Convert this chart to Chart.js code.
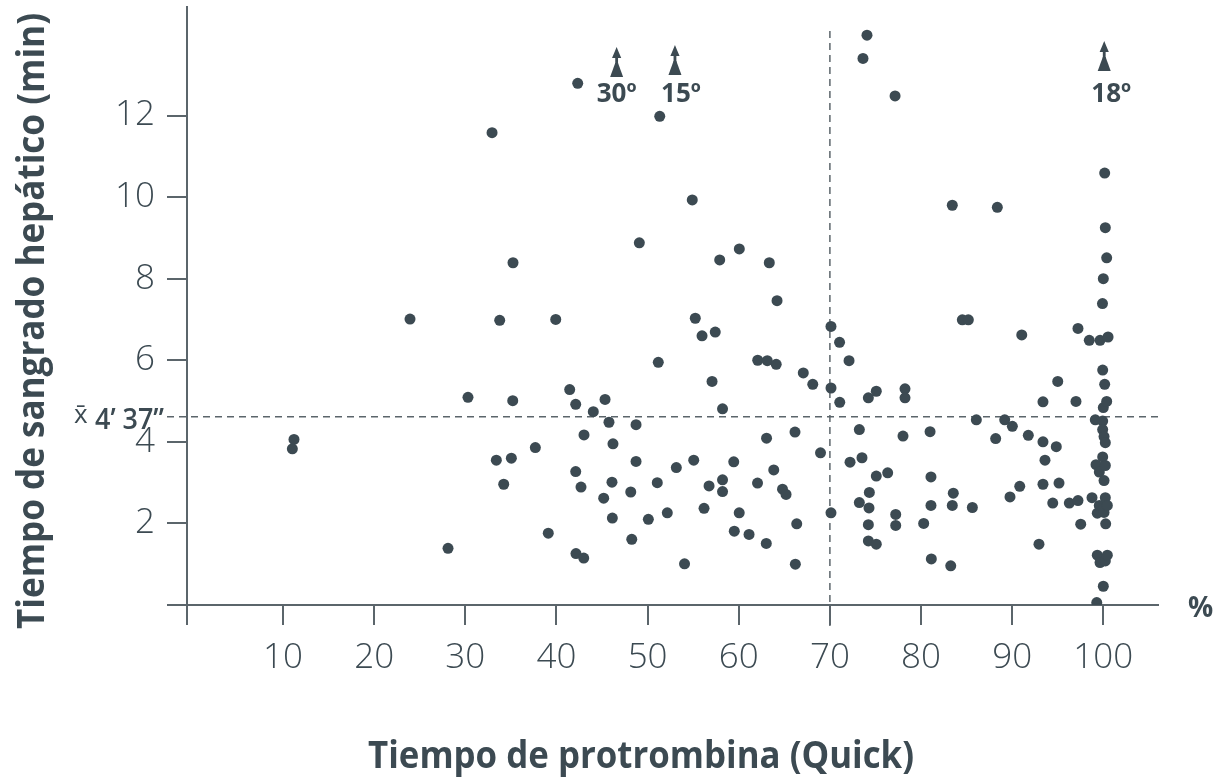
<!DOCTYPE html>
<html lang="es">
<head>
<meta charset="utf-8">
<title>Tiempo de sangrado hepático vs. tiempo de protrombina</title>
<script src="https://cdn.jsdelivr.net/npm/chart.js@4.4.1/dist/chart.umd.min.js"></script>
<style>
  html, body { margin: 0; padding: 0; background: #ffffff; }
  #wrap { width: 1220px; height: 779px; position: relative; }
  canvas { display: block; }
</style>
</head>
<body>
<div id="wrap"><canvas id="chart" width="1220" height="779"></canvas></div>
<script>
// Tiempo de protrombina (Quick, %) for each patient
const quick = [
  11.20, 11.02, 23.93, 28.10, 30.29, 32.93, 33.40, 33.77, 35.05, 35.23,
  34.21, 35.20, 37.68, 39.10, 39.92, 41.45, 42.11, 42.33, 42.11, 42.14,
  42.99, 42.69, 43.02, 44.04, 45.33, 45.76, 46.20, 45.18, 46.09, 46.13,
  48.15, 48.26, 48.73, 48.73, 49.09, 50.08, 51.06, 51.17, 51.33, 52.16,
  53.15, 54.05, 54.90, 55.06, 55.23, 55.97, 56.19, 56.74, 57.07, 57.42,
  57.91, 58.22, 58.22, 58.22, 59.45, 59.51, 60.05, 60.06, 61.13, 62.06,
  62.08, 63.05, 63.02, 63.13, 63.35, 63.84, 64.11, 64.20, 64.80, 65.19,
  66.17, 66.21, 66.36, 67.08, 68.12, 68.97, 70.12, 70.12, 70.12, 71.06,
  71.08, 72.10, 72.21, 73.23, 73.23, 73.52, 73.63, 74.07, 74.22, 74.22,
  74.22, 74.33, 74.29, 75.09, 75.09, 75.09, 76.34, 77.15, 77.22, 77.22,
  78.02, 78.24, 78.24, 80.29, 80.99, 81.09, 81.09, 81.13, 83.26, 83.43,
  83.43, 83.54, 84.53, 85.19, 85.63, 86.07, 88.19, 88.37, 89.18, 89.76,
  90.02, 90.83, 91.05, 91.77, 92.94, 93.38, 93.38, 93.38, 93.60, 94.45,
  94.84, 95.00, 95.14, 96.27, 97.00, 97.22, 97.22, 97.52, 98.46, 98.76,
  99.12, 99.20, 99.28, 99.34, 99.34, 99.56, 99.56, 99.64, 99.64, 99.91,
  99.93, 99.93, 99.93, 99.93, 100.00, 100.00, 100.00, 100.00, 100.08, 100.08,
  100.08, 100.15, 100.15, 100.22, 100.22, 100.22, 100.22, 100.22, 100.26, 100.37,
  100.37, 100.44, 100.44, 100.52
];

// Tiempo de sangrado hepático (min), same order as quick[]
const bleeding = [
  4.06, 3.83, 7.01, 1.39, 5.09, 11.58, 3.55, 6.98, 3.60, 8.39,
  2.96, 5.01, 3.86, 1.76, 7.00, 5.28, 4.92, 12.79, 3.27, 1.26,
  1.15, 2.89, 4.17, 4.74, 5.04, 4.48, 3.95, 2.62, 3.01, 2.13,
  2.77, 1.61, 4.42, 3.52, 8.88, 2.10, 3.00, 5.95, 11.98, 2.26,
  3.37, 1.01, 9.93, 3.55, 7.03, 6.60, 2.37, 2.92, 5.48, 6.69,
  8.46, 4.81, 3.07, 2.78, 3.51, 1.81, 2.26, 8.73, 1.73, 2.99,
  6.00, 4.09, 1.51, 5.99, 8.39, 3.31, 5.90, 7.46, 2.84, 2.71,
  4.24, 1.00, 1.99, 5.69, 5.41, 3.73, 6.83, 5.32, 2.26, 6.44,
  4.97, 5.99, 3.50, 4.30, 2.51, 3.61, 13.40, 13.97, 5.08, 1.97,
  1.57, 2.76, 2.38, 5.24, 3.16, 1.49, 3.24, 12.48, 2.22, 1.95,
  4.14, 5.30, 5.08, 2.00, 4.25, 3.14, 2.44, 1.13, 0.96, 9.80,
  2.44, 2.74, 6.99, 6.99, 2.39, 4.54, 4.08, 9.75, 4.54, 2.65,
  4.38, 2.91, 6.62, 4.16, 1.49, 4.98, 4.00, 2.96, 3.55, 2.50,
  3.88, 5.48, 2.99, 2.50, 4.99, 6.78, 2.56, 1.98, 6.49, 2.63,
  4.54, 3.44, 0.06, 2.25, 1.22, 2.44, 3.26, 6.49, 1.04, 7.39,
  5.76, 4.51, 4.30, 3.63, 8.00, 4.84, 2.36, 0.46, 4.13, 3.05,
  2.27, 10.59, 5.41, 9.25, 3.98, 3.42, 2.63, 1.08, 1.99, 8.51,
  4.99, 2.44, 1.22, 6.57
];

// Patients beyond the top of the scale, marked with an upward arrow
const outlierQuick    = [46.6, 53.0, 100.1];
const outlierBleeding = [30, 15, 18];

// Axis ticks
const xTickValues = [10, 20, 30, 40, 50, 60, 70, 80, 90, 100];
const yTickValues = [2, 4, 6, 8, 10, 12];

// Reference lines
const MEAN_BLEEDING = 4 + 37 / 60;   // x̄ = 4' 37"
const QUICK_THRESHOLD = 70;

const X_MIN = -0.54, X_MAX = 106.0;
const Y_MIN = 0, Y_MAX = 14.66;

const INK = '#3c4a52';
const RULE = '#5b656b';
const SANS = "'Open Sans', 'Noto Sans', sans-serif";

const points = quick.map((q, i) => ({ x: q, y: bleeding[i] }));

function drawUpArrow(ctx, cx, tipY) {
  // pointed head
  ctx.beginPath();
  ctx.moveTo(cx, tipY);
  ctx.quadraticCurveTo(cx + 2, tipY + 5, cx + 4.6, tipY + 11);
  ctx.lineTo(cx - 4.6, tipY + 11);
  ctx.quadraticCurveTo(cx - 2, tipY + 5, cx, tipY);
  ctx.closePath();
  ctx.fill();
  // stem
  ctx.fillRect(cx - 1.4, tipY + 9, 2.8, 10);
  // flared foot
  ctx.beginPath();
  ctx.moveTo(cx - 1.4, tipY + 16);
  ctx.lineTo(cx + 1.4, tipY + 16);
  ctx.lineTo(cx + 6.5, tipY + 30);
  ctx.lineTo(cx - 6.5, tipY + 30);
  ctx.closePath();
  ctx.fill();
}

const overlay = {
  id: 'overlay',
  beforeDatasetsDraw(chart) {
    const { ctx, chartArea: a, scales: { x, y } } = chart;
    ctx.save();
    ctx.strokeStyle = RULE;
    ctx.lineWidth = 1.5;
    ctx.setLineDash([7, 5]);
    const my = y.getPixelForValue(MEAN_BLEEDING);
    ctx.beginPath();
    ctx.moveTo(a.left - 20, my);
    ctx.lineTo(a.right, my);
    ctx.stroke();
    const qx = x.getPixelForValue(QUICK_THRESHOLD);
    ctx.beginPath();
    ctx.moveTo(qx, a.top + 24);
    ctx.lineTo(qx, a.bottom + 22);
    ctx.stroke();
    ctx.restore();
  },
  afterDraw(chart) {
    const { ctx, chartArea: a, scales: { x, y } } = chart;
    ctx.save();
    ctx.fillStyle = INK;

    // off-scale arrows with their values
    const tips = [40, 38, 34];
    const dx = [0, 6, 7];
    outlierQuick.forEach((q, i) => {
      const px = x.getPixelForValue(q);
      drawUpArrow(ctx, px, a.top + tips[i]);
      ctx.font = `bold 26px ${SANS}`;
      ctx.textAlign = 'center';
      ctx.textBaseline = 'alphabetic';
      ctx.fillText(outlierBleeding[i] + 'º', px + dx[i], a.top + 95);
    });

    // mean label on the left of the dashed line
    const my = y.getPixelForValue(MEAN_BLEEDING);
    ctx.textAlign = 'left';
    ctx.font = `26px ${SANS}`;
    ctx.fillText('x\u0304', 74, my + 6);
    ctx.font = `600 29px ${SANS}`;
    ctx.fillText('4’ 37”', 95, my + 12, 69);

    // unit at the end of the x axis
    ctx.font = `bold 28px ${SANS}`;
    ctx.fillText('%', 1188, a.bottom + 12);

    // axis titles
    ctx.font = `bold 37px ${SANS}`;
    ctx.textAlign = 'center';
    ctx.fillText('Tiempo de protrombina (Quick)', 641, 768, 546);
    ctx.translate(44, 321);
    ctx.rotate(-Math.PI / 2);
    ctx.fillText('Tiempo de sangrado hepático (min)', 0, 0, 616);
    ctx.restore();
  }
};

const axisGrid = {
  drawOnChartArea: false,
  drawTicks: true,
  tickLength: 20,
  color: RULE,
  lineWidth: 2
};
const axisBorder = { display: true, color: RULE, width: 2 };
const tickFont = { family: SANS, size: 35, weight: '300' };

new Chart(document.getElementById('chart'), {
  type: 'scatter',
  data: {
    datasets: [{
      data: points,
      backgroundColor: INK,
      borderWidth: 0,
      pointRadius: 5.5,
      pointHoverRadius: 5.5
    }]
  },
  options: {
    responsive: false,
    animation: false,
    events: [],
    layout: { padding: { left: 0, top: 7, right: 62, bottom: 0 } },
    plugins: { legend: { display: false }, tooltip: { enabled: false } },
    scales: {
      x: {
        type: 'linear',
        min: X_MIN,
        max: X_MAX,
        afterBuildTicks(scale) {
          scale.ticks = [X_MIN, ...xTickValues].map(v => ({ value: v }));
        },
        afterFit(scale) {
          scale.height = 174;
          scale.paddingLeft = 0;
          scale.paddingRight = 0;
        },
        grid: axisGrid,
        border: axisBorder,
        ticks: {
          color: INK,
          font: tickFont,
          padding: 12,
          maxRotation: 0,
          autoSkip: false,
          callback: v => (v === X_MIN ? '' : String(v))
        }
      },
      y: {
        type: 'linear',
        min: Y_MIN,
        max: Y_MAX,
        afterBuildTicks(scale) {
          scale.ticks = [Y_MIN, ...yTickValues].map(v => ({ value: v }));
        },
        afterFit(scale) {
          scale.width = 187;
          scale.paddingTop = 0;
          scale.paddingBottom = 0;
        },
        grid: axisGrid,
        border: axisBorder,
        ticks: {
          color: INK,
          font: tickFont,
          padding: 12,
          autoSkip: false,
          callback: v => (v === Y_MIN ? '' : String(v))
        }
      }
    }
  },
  plugins: [overlay]
});
</script>
</body>
</html>
